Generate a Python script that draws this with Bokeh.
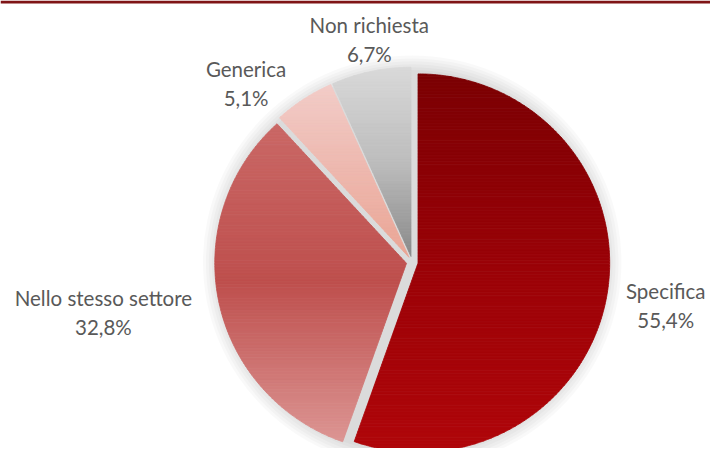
import numpy as np
from bokeh.plotting import figure
from bokeh.models import Range1d, Span
from bokeh.core.properties import value
from bokeh.embed import file_html
from bokeh.resources import INLINE

# ---- data ----
categories = ["Specifica", "Nello stesso settore", "Generica", "Non richiesta"]
shares = [55.4, 32.8, 5.1, 6.7]
share_labels = ["55,4%", "32,8%", "5,1%", "6,7%"]

# ---- styles / layout ----
gradients = [
    ["#7b0003", "#9a0207", "#b0060a"],
    ["#ca6866", "#be4f4d", "#dc9593"],
    ["#f2ccc8", "#eeb8ae", "#eaa595"],
    ["#d9d9d9", "#bdbdbd", "#8a8a8a"],
]
label_dist = [263, 320, 251, 235]
label_shift = [0.0, 2.2, -9.3, 1.3]

W, H = 710, 448
VW, VH = 726, 464          # virtual canvas of the original picture
CX, CY, R, EXPLODE = 421.0, 271.0, 196.0, 6.0

p = figure(width=W, height=H, output_backend="svg", toolbar_location=None,
           x_range=Range1d(0, VW), y_range=Range1d(VH, 0), min_border=0)
p.axis.visible = False
p.grid.visible = False
p.outline_line_color = None
p.background_fill_color = "white"
p.border_fill_color = "white"

# top rule
p.add_layout(Span(location=1.5, dimension="width", line_color="#7f1416", line_width=3))

# soft halo / shadow
halo_r = [R + 18, R + 15, R + 12, R + 9, R + 6, R + 3]
p.ellipse(x=[CX] * len(halo_r), y=[CY] * len(halo_r),
          width=[2 * r for r in halo_r], height=[2 * r for r in halo_r],
          fill_color="black", fill_alpha=0.022, line_color=None)


def hex2rgb(h):
    h = h.lstrip("#")
    return np.array([int(h[i:i + 2], 16) for i in (0, 2, 4)], dtype=float)


def grad_color(stops, t):
    t = min(max(t, 0.0), 1.0)
    n = len(stops) - 1
    k = min(int(t * n), n - 1)
    f = t * n - k
    c = hex2rgb(stops[k]) * (1 - f) + hex2rgb(stops[k + 1]) * f
    return "#%02x%02x%02x" % tuple(int(round(v)) for v in c)


def clip_half(pts, keep, yc):
    out = []
    n = len(pts)
    for i in range(n):
        a = pts[i]
        b = pts[(i + 1) % n]
        ka, kb = keep(a), keep(b)
        if ka:
            out.append(a)
        if ka != kb:
            t = (yc - a[1]) / (b[1] - a[1])
            out.append((a[0] + t * (b[0] - a[0]), yc))
    return out


def clip_band(poly, y0, y1):
    pts = clip_half(poly, lambda q: q[1] >= y0, y0)
    if len(pts) >= 3:
        pts = clip_half(pts, lambda q: q[1] <= y1, y1)
    return pts


total = sum(shares)
start = 0.0
xs, ys, cols = [], [], []
lx, ly1, ly2 = [], [], []
for i, s in enumerate(shares):
    span = 360.0 * s / total
    a0, a1 = start, start + span
    mid = np.radians((a0 + a1) / 2)
    ax = CX + EXPLODE * np.sin(mid)
    ay = CY - EXPLODE * np.cos(mid)
    th = np.radians(np.linspace(a0, a1, max(int(span * 2), 8)))
    poly = [(ax, ay)] + [(ax + R * np.sin(t), ay - R * np.cos(t)) for t in th]
    ytop = min(q[1] for q in poly)
    ybot = max(q[1] for q in poly)
    nb = max(int((ybot - ytop) / 3.0), 10)
    edges = np.linspace(ytop, ybot, nb + 1)
    for b in range(nb):
        band = clip_band(poly, edges[b], edges[b + 1])
        if len(band) >= 3:
            xs.append([q[0] for q in band])
            ys.append([q[1] for q in band])
            tmid = ((edges[b] + edges[b + 1]) / 2 - ytop) / (ybot - ytop)
            cols.append(grad_color(gradients[i], tmid))
    # label position
    la = np.radians((a0 + a1) / 2 + label_shift[i])
    cx_l = CX + label_dist[i] * np.sin(la)
    cy_l = CY - label_dist[i] * np.cos(la)
    lx.append(cx_l)
    ly1.append(cy_l - 15)
    ly2.append(cy_l + 15)
    start = a1

p.patches(xs, ys, fill_color=cols, line_color=cols, line_width=0.8)

p.text(x=lx, y=ly1, text=categories, text_font=value("Lato"), text_font_size="20.5px",
       text_color="#595959", text_align="center", text_baseline="middle")
p.text(x=lx, y=ly2, text=share_labels, text_font=value("Lato"), text_font_size="20.5px",
       text_color="#595959", text_align="center", text_baseline="middle")

open("out.html", "w").write(file_html(p, INLINE))
